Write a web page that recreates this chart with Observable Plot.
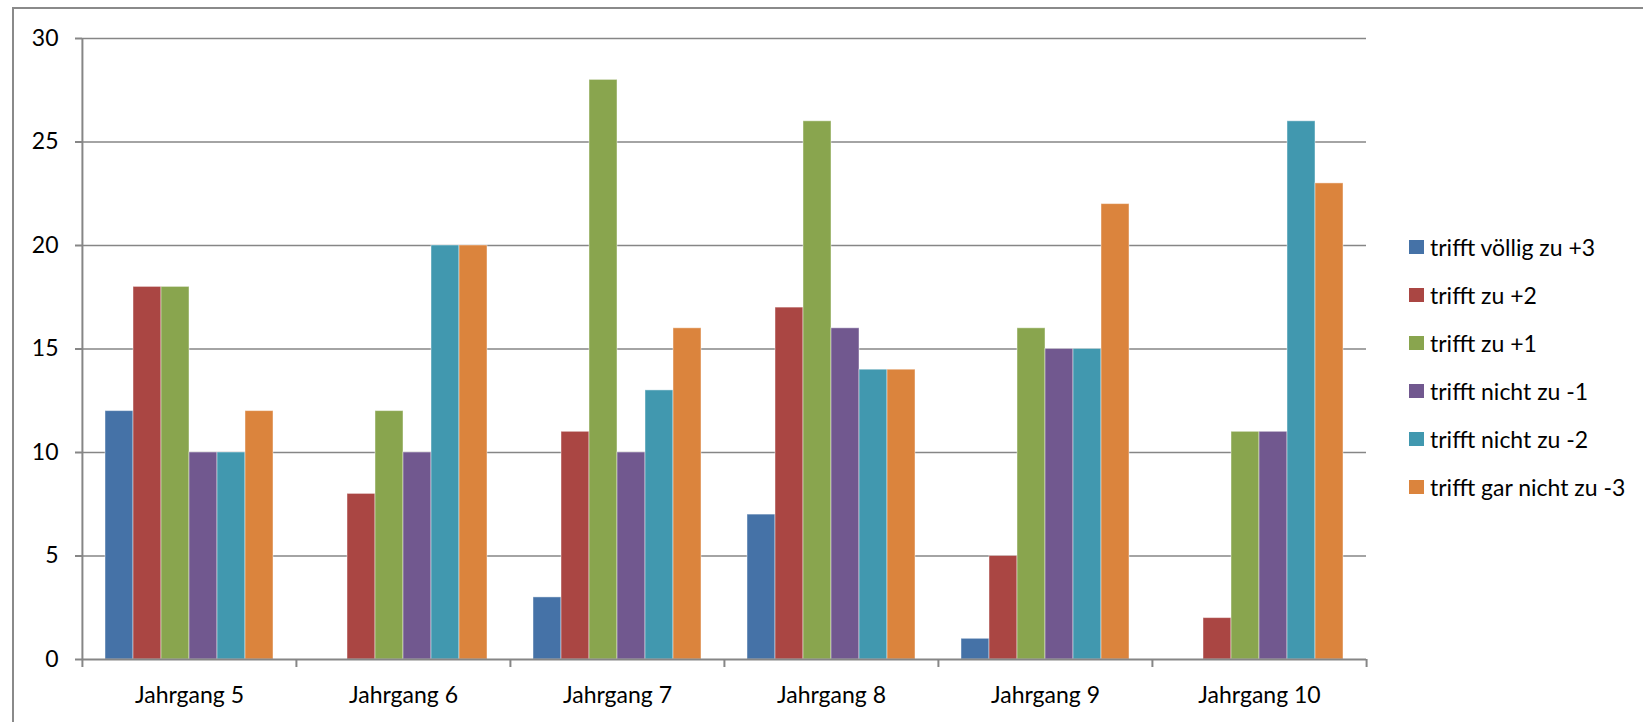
<!DOCTYPE html>
<html>
<head>
<meta charset="utf-8">
<script src="https://cdn.jsdelivr.net/npm/d3@7"></script>
<script src="https://cdn.jsdelivr.net/npm/@observablehq/plot@0.6"></script>
<style>
  html, body { margin: 0; padding: 0; background: #fff; overflow: hidden; }
  #wrap { position: relative; width: 1643px; height: 722px; overflow: hidden; }
  #border { position: absolute; left: 12px; top: 7px; width: 1700px; height: 800px; border: 2px solid #8a8a8a; box-sizing: border-box; }
  #chart { position: absolute; left: 0; top: 0; }
  #legend { position: absolute; left: 1409px; top: 223px; font-family: Lato, "Open Sans", sans-serif; font-size: 23px; color: #000; }
  .item { height: 48px; display: flex; align-items: center; }
  .sw { width: 15px; height: 14px; margin-right: 6px; flex: none; }
  svg [aria-label="y-axis tick"], svg [aria-label="y-axis tick"] path { stroke: #868686; stroke-width: 2px; }
</style>
</head>
<body>
<div id="wrap">
  <div id="border"></div>
  <div id="chart"></div>
  <div id="legend"></div>
</div>
<script>
const jahrgaenge = ["Jahrgang 5", "Jahrgang 6", "Jahrgang 7", "Jahrgang 8", "Jahrgang 9", "Jahrgang 10"];
const series = ["trifft völlig zu +3", "trifft zu +2", "trifft zu +1", "trifft nicht zu -1", "trifft nicht zu -2", "trifft gar nicht zu -3"];
const colors = ["#4572A7", "#AA4643", "#89A54E", "#71588F", "#4198AF", "#DB843D"];
const valuesVoellig3   = [12, 0, 3, 7, 1, 0];
const valuesZu2        = [18, 8, 11, 17, 5, 2];
const valuesZu1        = [18, 12, 28, 26, 16, 11];
const valuesNicht1     = [10, 10, 10, 16, 15, 11];
const valuesNicht2     = [10, 20, 13, 14, 15, 26];
const valuesGarNicht3  = [12, 20, 16, 14, 22, 23];
const yTicks = [0, 5, 10, 15, 20, 25, 30];

const seriesValues = [valuesVoellig3, valuesZu2, valuesZu1, valuesNicht1, valuesNicht2, valuesGarNicht3];
const data = [];
jahrgaenge.forEach((j, ji) => series.forEach((s, si) => data.push({jahrgang: j, serie: s, value: seriesValues[si][ji]})));

const W = 1643, H = 722;
const mL = 81, mR = 277, mT = 38, mB = 63;
const bw = (W - mL - mR) / jahrgaenge.length;
const innerH = H - mT - mB;
const gray = "#868686";

const plot = Plot.plot({
  width: W, height: H,
  marginLeft: mL, marginRight: mR, marginTop: mT, marginBottom: mB,
  style: {fontFamily: "Lato, 'Open Sans', sans-serif", fontSize: "23px", color: "#000", background: "transparent"},
  fx: {domain: jahrgaenge, padding: 0, axis: "bottom", tickSize: 0, tickPadding: 27, label: null},
  x: {domain: series, paddingInner: 0, paddingOuter: 0.75, align: 0.5, axis: null},
  y: {domain: [0, 30], ticks: yTicks, tickSize: 7, tickPadding: 17, label: null, axis: "left"},
  color: {domain: series, range: colors},
  marks: [
    Plot.ruleY(yTicks.filter(d => d > 0), {stroke: gray, strokeWidth: 1.4}),
    Plot.barY(data, {fx: "jahrgang", x: "serie", y: "value", fill: "serie", stroke: "white", strokeOpacity: 0.45, strokeWidth: 1}),
    Plot.ruleY([0], {stroke: gray, strokeWidth: 2}),
    Plot.ruleX([jahrgaenge[0]], {x: null, fx: d => d, dx: -bw / 2, stroke: gray, strokeWidth: 2}),
    Plot.ruleX(jahrgaenge, {x: null, fx: d => d, dx: -bw / 2, insetTop: innerH, insetBottom: -8, stroke: gray, strokeWidth: 2}),
    Plot.ruleX([jahrgaenge[jahrgaenge.length - 1]], {x: null, fx: d => d, dx: bw / 2, insetTop: innerH, insetBottom: -8, stroke: gray, strokeWidth: 2})
  ]
});
document.getElementById("chart").appendChild(plot);

const legend = document.getElementById("legend");
series.forEach((s, i) => {
  const item = document.createElement("div");
  item.className = "item";
  const sw = document.createElement("span");
  sw.className = "sw";
  sw.style.background = colors[i];
  const t = document.createElement("span");
  t.textContent = s;
  item.appendChild(sw);
  item.appendChild(t);
  legend.appendChild(item);
});
</script>
</body>
</html>
